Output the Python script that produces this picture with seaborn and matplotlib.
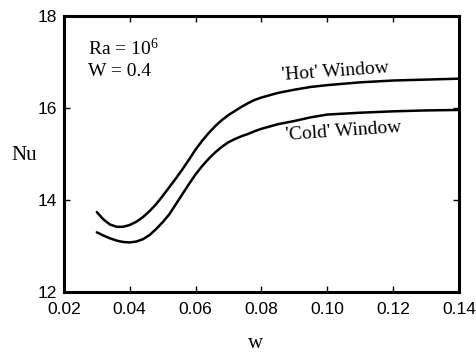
import matplotlib
matplotlib.use("Agg")
import matplotlib.pyplot as plt
import seaborn as sns
import pandas as pd

w_hot = [0.030, 0.032, 0.034, 0.036, 0.038, 0.040, 0.042, 0.044, 0.046, 0.048,
         0.050, 0.052, 0.054, 0.056, 0.058, 0.060, 0.062, 0.064, 0.066, 0.068,
         0.070, 0.072, 0.074, 0.076, 0.078, 0.080, 0.085, 0.090, 0.095, 0.100,
         0.110, 0.120, 0.130, 0.140]
nu_hot = [13.74, 13.58, 13.47, 13.42, 13.42, 13.46, 13.53, 13.63, 13.76, 13.91,
          14.09, 14.28, 14.47, 14.67, 14.88, 15.10, 15.29, 15.46, 15.61, 15.74,
          15.85, 15.94, 16.03, 16.11, 16.18, 16.23, 16.33, 16.40, 16.46, 16.50,
          16.56, 16.60, 16.62, 16.64]
w_cold = [0.030, 0.032, 0.034, 0.036, 0.038, 0.040, 0.042, 0.044, 0.046, 0.048,
          0.050, 0.052, 0.054, 0.056, 0.058, 0.060, 0.062, 0.064, 0.066, 0.068,
          0.070, 0.072, 0.074, 0.076, 0.078, 0.080, 0.085, 0.090, 0.095, 0.100,
          0.110, 0.120, 0.130, 0.140]
nu_cold = [13.30, 13.23, 13.17, 13.12, 13.09, 13.08, 13.10, 13.15, 13.24, 13.37,
           13.52, 13.69, 13.91, 14.13, 14.35, 14.56, 14.74, 14.90, 15.04, 15.16,
           15.26, 15.33, 15.39, 15.44, 15.50, 15.55, 15.65, 15.72, 15.80, 15.86,
           15.90, 15.93, 15.95, 15.96]
series_names = ["'Hot' Window", "'Cold' Window"]
x_ticks = [0.02, 0.04, 0.06, 0.08, 0.10, 0.12, 0.14]
x_tick_labels = ["0.02", "0.04", "0.06", "0.08", "0.10", "0.12", "0.14"]
y_ticks = [12, 14, 16, 18]
y_tick_labels = ["12", "14", "16", "18"]

df = pd.concat([
    pd.DataFrame({"w": w_hot, "Nu": nu_hot, "series": series_names[0]}),
    pd.DataFrame({"w": w_cold, "Nu": nu_cold, "series": series_names[1]}),
])

sns.set_style("ticks")
plt.rcParams["font.family"] = ["Liberation Sans", "DejaVu Sans"]
plt.rcParams["mathtext.fontset"] = "custom"
plt.rcParams["mathtext.rm"] = "Liberation Serif"
plt.rcParams["mathtext.it"] = "Liberation Serif:italic"
plt.rcParams["text.color"] = "black"
plt.rcParams["axes.labelcolor"] = "black"

fig = plt.figure(figsize=(4.77, 3.58), dpi=100)
ax = fig.add_axes([0.134, 0.184, 0.828, 0.771])
sns.lineplot(data=df, x="w", y="Nu", units="series", estimator=None, sort=False,
             color="black", linewidth=1.8, ax=ax, legend=False)

ax.set_xlim(0.02, 0.14)
ax.set_ylim(12, 18)
ax.set_xticks(x_ticks)
ax.set_xticklabels(x_tick_labels)
ax.set_yticks(y_ticks)
ax.set_yticklabels(y_tick_labels)
ax.tick_params(direction="in", length=4, width=1, top=True, right=True,
               labelsize=12.5, colors="black")
ax.tick_params(axis="x", pad=7)
ax.tick_params(axis="y", pad=5)
for s in ax.spines.values():
    s.set_linewidth(2.2)
    s.set_color("black")

serif = ["Liberation Serif", "DejaVu Serif"]
ax.set_xlabel("w", fontsize=15, family=serif)
ax.set_ylabel("Nu", fontsize=15, family=serif, rotation=0)
ax.xaxis.set_label_coords(0.484, -0.185)
ax.yaxis.set_label_coords(-0.1, 0.495)
ax.xaxis.label.set_va("center")
ax.yaxis.label.set_va("center")
ax.yaxis.label.set_ha("center")

ax.text(0.0273, 17.15, r"Ra = 10$^{\mathregular{6}}$", fontsize=14, family=serif)
ax.text(0.0273, 16.70, "W = 0.4", fontsize=14, family=serif)
ax.text(0.1026, 16.70, series_names[0], fontsize=14, family=serif, rotation=4,
        ha="center", va="baseline", rotation_mode="anchor")
ax.text(0.105, 15.39, series_names[1], fontsize=14, family=serif, rotation=4,
        ha="center", va="baseline", rotation_mode="anchor")

fig.savefig("out.png", dpi=100)
